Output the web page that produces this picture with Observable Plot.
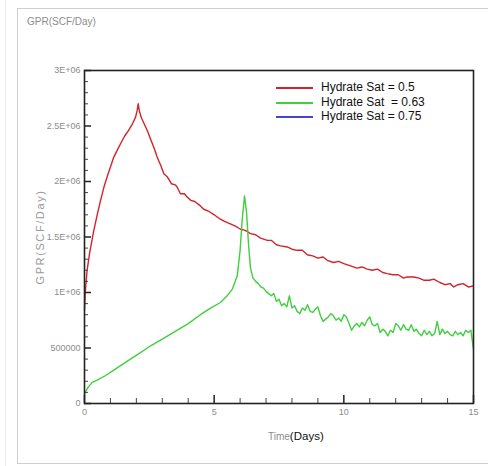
<!DOCTYPE html>
<html>
<head>
<meta charset="utf-8">
<script src="https://cdn.jsdelivr.net/npm/d3@7"></script>
<script src="https://cdn.jsdelivr.net/npm/@observablehq/plot@0.6"></script>
<style>
  html, body { margin: 0; padding: 0; background: #fff; }
  #wrap { position: relative; width: 488px; height: 466px; overflow: hidden; font-family: Arial, "Liberation Sans", sans-serif; }
  .abs { position: absolute; white-space: nowrap; }
  .narrow { font-family: "Liberation Sans Narrow", "Arial Narrow", Arial, sans-serif; }
</style>
</head>
<body>
<div id="wrap"></div>
<script>
// ---- data (values in SCF/Day) ----
const seriesNames = ["Hydrate Sat = 0.5", "Hydrate Sat  = 0.63", "Hydrate Sat = 0.75"];
const seriesColors = ["#d4222b", "#3fcf3f", "#4646cc"];

const redT = [0, 0.03, 0.1, 0.2, 0.36, 0.5, 0.62, 0.75, 0.87, 1.0, 1.13, 1.26, 1.39, 1.55, 1.7, 1.85, 1.97, 2.03, 2.07, 2.12, 2.2, 2.3, 2.42, 2.55, 2.7, 2.8, 2.95, 3.06, 3.2, 3.35, 3.5, 3.57, 3.7, 3.85, 3.96, 4.1, 4.25, 4.47, 4.6, 4.8, 5.0, 5.24, 5.4, 5.6, 5.8, 6.02, 6.2, 6.4, 6.6, 6.79, 7.05, 7.2, 7.4, 7.56, 7.82, 8.0, 8.2, 8.4, 8.59, 8.8, 9.0, 9.2, 9.36, 9.6, 9.8, 10.0, 10.26, 10.5, 10.7, 10.9, 11.1, 11.3, 11.5, 11.67, 11.9, 12.1, 12.3, 12.44, 12.7, 12.9, 13.1, 13.3, 13.47, 13.7, 13.9, 14.1, 14.24, 14.4, 14.6, 14.8, 15.0];
const redV = [840000, 1000000, 1200000, 1360000, 1560000, 1710000, 1830000, 1950000, 2040000, 2130000, 2220000, 2280000, 2340000, 2410000, 2460000, 2520000, 2580000, 2640000, 2700000, 2630000, 2570000, 2520000, 2460000, 2380000, 2290000, 2220000, 2140000, 2070000, 2040000, 1980000, 1970000, 1950000, 1890000, 1890000, 1860000, 1830000, 1820000, 1780000, 1750000, 1730000, 1700000, 1660000, 1640000, 1620000, 1600000, 1570000, 1560000, 1530000, 1520000, 1490000, 1470000, 1470000, 1430000, 1420000, 1410000, 1390000, 1380000, 1380000, 1340000, 1330000, 1310000, 1320000, 1290000, 1270000, 1280000, 1260000, 1240000, 1220000, 1230000, 1210000, 1200000, 1210000, 1180000, 1170000, 1160000, 1160000, 1130000, 1140000, 1140000, 1130000, 1110000, 1110000, 1120000, 1090000, 1070000, 1080000, 1050000, 1070000, 1080000, 1050000, 1060000];

const greenT = [0, 0.05, 0.15, 0.3, 0.49, 0.8, 1.13, 1.45, 1.77, 2.1, 2.55, 3.0, 3.5, 4.0, 4.47, 4.8, 5.24, 5.5, 5.7, 5.89, 6.0, 6.08, 6.17, 6.25, 6.32, 6.4,
  6.5, 6.6, 6.7, 6.8, 6.9, 7.0, 7.1, 7.2, 7.3, 7.4, 7.5, 7.6, 7.7, 7.8, 7.9, 8.0, 8.1, 8.2, 8.3, 8.4, 8.5, 8.6, 8.7, 8.8, 8.9, 9.0, 9.1, 9.2, 9.3, 9.4, 9.5, 9.6, 9.7, 9.8, 9.9, 10.0, 10.1, 10.2, 10.3, 10.4, 10.5, 10.6, 10.7, 10.8, 10.9, 11.0, 11.1, 11.2, 11.3, 11.4, 11.5, 11.6, 11.7, 11.8, 11.9, 12.0, 12.1, 12.2, 12.3, 12.4, 12.5, 12.6, 12.7, 12.8, 12.9, 13.0, 13.1, 13.2, 13.3, 13.4, 13.5, 13.6, 13.7, 13.8, 13.9, 14.0, 14.1, 14.2, 14.3, 14.4, 14.5, 14.6, 14.7, 14.8, 14.9, 14.95, 15.0];
const greenV = [80000, 110000, 150000, 190000, 210000, 250000, 300000, 350000, 400000, 450000, 520000, 580000, 650000, 720000, 800000, 850000, 910000, 970000, 1030000, 1150000, 1380000, 1650000, 1870000, 1720000, 1450000, 1220000,
  1130000, 1100000, 1080000, 1050000, 1040000, 1010000, 990000, 970000, 990000, 920000, 940000, 880000, 900000, 870000, 970000, 860000, 880000, 830000, 810000, 860000, 840000, 890000, 830000, 820000, 850000, 870000, 790000, 740000, 760000, 780000, 810000, 790000, 750000, 770000, 740000, 800000, 780000, 720000, 660000, 700000, 720000, 690000, 730000, 700000, 750000, 780000, 710000, 700000, 720000, 640000, 670000, 650000, 610000, 660000, 640000, 720000, 700000, 660000, 710000, 670000, 660000, 710000, 650000, 670000, 630000, 610000, 660000, 620000, 650000, 610000, 630000, 740000, 620000, 670000, 630000, 650000, 620000, 610000, 650000, 620000, 640000, 610000, 660000, 640000, 660000, 570000, 490000];

const xMajor = [0, 5, 10, 15];
const xMinor = [1, 2, 3, 4, 6, 7, 8, 9, 11, 12, 13, 14];
const yMajor = [0, 500000, 1000000, 1500000, 2000000, 2500000, 3000000];
const yMajorLabels = ["0", "500000", "1E+06", "1.5E+06", "2E+06", "2.5E+06", "3E+06"];
const yMinor = [100000, 200000, 300000, 400000, 600000, 700000, 800000, 900000, 1100000, 1200000, 1300000, 1400000, 1600000, 1700000, 1800000, 1900000, 2100000, 2200000, 2300000, 2400000, 2600000, 2700000, 2800000, 2900000];

const rows = [
  ...redT.map((t, i) => ({t, v: redV[i], s: seriesNames[0]})),
  ...greenT.map((t, i) => ({t, v: greenV[i], s: seriesNames[1]}))
];

const labelFont = '"Liberation Sans Narrow", "Arial Narrow", Arial, sans-serif';

const chart = Plot.plot({
  width: 488,
  height: 466,
  marginLeft: 84,
  marginRight: 15,
  marginTop: 70,
  marginBottom: 63,
  style: {background: "transparent", fontFamily: labelFont, fontSize: "9px", overflow: "visible"},
  x: {domain: [0, 15]},
  y: {domain: [0, 3000000]},
  color: {domain: seriesNames, range: seriesColors},
  marks: [
    Plot.line(rows, {x: "t", y: "v", z: "s", stroke: "s", strokeWidth: 1.4}),
    // tick labels
    Plot.axisX({ticks: xMajor, tickSize: 0, tickPadding: 5, tickFormat: d => String(d), fill: "#8c8c8c", label: null}),
    Plot.axisY({ticks: yMajor, tickSize: 0, tickPadding: 4, tickFormat: d => yMajorLabels[yMajor.indexOf(d)], fill: "#8c8c8c", label: null}),
    // inward ticks
    Plot.axisX({ticks: xMajor, tickSize: -8, text: null, label: null, stroke: "#222", strokeWidth: 1.5}),
    Plot.axisX({ticks: xMinor, tickSize: -5, text: null, label: null, stroke: "#444"}),
    Plot.axisY({ticks: yMajor, tickSize: -7, text: null, label: null, stroke: "#222", strokeWidth: 1.5}),
    Plot.axisY({ticks: yMinor, tickSize: -4, text: null, label: null, stroke: "#444"}),
    Plot.frame({stroke: "#222", strokeWidth: 1.6})
  ]
});

const wrap = document.getElementById("wrap");

// panel borders
const addBox = (css) => { const d = document.createElement("div"); d.className = "abs"; d.style.cssText = css; wrap.appendChild(d); };
addBox("left:5px;top:0;width:0;height:466px;border-left:1px solid #ececec;");
addBox("left:17px;top:8px;width:480px;height:454px;border:1px solid #cfcfcf;border-right:none;");

chart.style.position = "absolute";
chart.style.left = "0px";
chart.style.top = "0px";
wrap.appendChild(chart);

const addText = (html, css, cls) => { const d = document.createElement("div"); d.className = "abs" + (cls ? " " + cls : ""); d.style.cssText = css; d.innerHTML = html; wrap.appendChild(d); return d; };

// title
addText("GPR(SCF/Day)", "left:27px;top:16px;font-size:10px;color:#8c8c8c;", "narrow");

// y-axis title
addText("GPR(SCF/Day)", "left:40px;top:237px;font-size:11px;color:#9a9a9a;letter-spacing:1.6px;transform:translate(-50%,-50%) rotate(-90deg);");

// x-axis title
addText('<span class="narrow" style="font-size:10px;color:#8c8c8c;">Time</span><span style="font-size:11.5px;color:#111;">(Days)</span>', "left:268px;top:426px;");

// legend
seriesNames.forEach((name, i) => {
  const y = 88 + i * 14.5;
  addBox(`left:276px;top:${y - 1}px;width:37px;height:0;border-top:2px solid ${seriesColors[i]};`);
  addText(name.replace(/ /g, "&nbsp;"), `left:321px;top:${y - 8}px;font-size:12px;color:#111;line-height:14px;`);
});
</script>
</body>
</html>
